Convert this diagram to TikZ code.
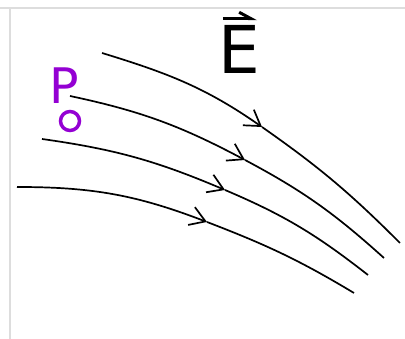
\documentclass[tikz,border=0pt]{standalone}
\usepackage{fontspec}
\setmainfont{DejaVu Sans}
\usetikzlibrary{arrows.meta}
\definecolor{pviolet}{HTML}{9400D3}
\definecolor{framegray}{HTML}{DDDDDD}

\begin{document}
\begin{tikzpicture}[x=1pt, y=1pt,
    field/.style={black, line width=1.7pt},
    fieldarrow/.style={field, -{Straight Barb[length=15pt, width=19pt]}}]
    \useasboundingbox (0,0) rectangle (405,339);
    % Frame
    \draw[framegray, line width=1.5pt] (0,331) -- (405,331);
    \draw[framegray, line width=1.5pt] (10,331) -- (10,0);
    % Labels
    \node[pviolet, inner sep=0, font=\fontsize{49}{49}\selectfont] (P) at (64,253.5) {P};
    \node[pviolet, draw, circle, line width=3.5pt, minimum size=19pt, inner sep=0] (Pdot) at (70,218) {};
    \node[inner sep=0, font=\fontsize{66}{66}\selectfont] (E) at (239,290) {E};
    \draw[line width=3pt, -{Straight Barb[harpoon, length=12pt, width=13pt]}]
        ([xshift=5pt, yshift=6pt]E.north west) -- ([xshift=-3pt, yshift=6pt]E.north east);
    % Field lines
    \coordinate (s1) at (102,286); \coordinate (m1) at (262,212); \coordinate (e1) at (400,96);
    \coordinate (s2) at (70,243);  \coordinate (m2) at (245,179); \coordinate (e2) at (384,81);
    \coordinate (s3) at (42,200);  \coordinate (m3) at (225,149); \coordinate (e3) at (368,64);
    \coordinate (s4) at (17,152);  \coordinate (m4) at (207,117); \coordinate (e4) at (354,46);
    \draw[fieldarrow] (s1) to[out=-17, in=145] (m1);
    \draw[field] (m1) to[out=-35, in=135] (e1);
    \draw[fieldarrow] (s2) to[out=-12, in=152] (m2);
    \draw[field] (m2) to[out=-28, in=138] (e2);
    \draw[fieldarrow] (s3) to[out=-8, in=157] (m3);
    \draw[field] (m3) to[out=-23, in=142] (e3);
    \draw[fieldarrow] (s4) to[out=0, in=159] (m4);
    \draw[field] (m4) to[out=-21, in=149] (e4);
\end{tikzpicture}
\end{document}
